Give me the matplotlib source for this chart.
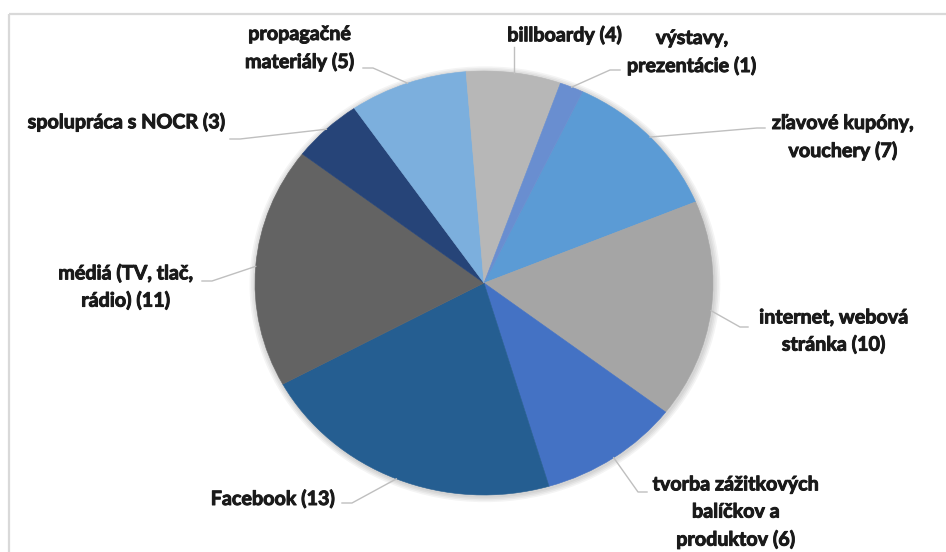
import matplotlib
matplotlib.use("Agg")
import matplotlib.pyplot as plt
import matplotlib.patheffects as pe
from matplotlib.patches import Circle, Rectangle
import numpy as np

# kategórie propagácie a počet odpovedí
kategorie = [
    "zľavové kupóny,\nvouchery",
    "internet, webová\nstránka",
    "tvorba zážitkových\nbalíčkov a\nproduktov",
    "Facebook",
    "médiá (TV, tlač,\nrádio)",
    "spolupráca s NOCR",
    "propagačné\nmateriály",
    "billboardy",
    "výstavy,\nprezentácie",
]
pocty = [7, 10, 6, 13, 11, 3, 5, 4, 1]

farby = ["#5B9BD5", "#A5A5A5", "#4472C4", "#255E91", "#636363",
         "#264478", "#7CAFDD", "#B7B7B7", "#698ED0"]

# stred textu popisu a body vodiacej čiary (v pixeloch, y zhora)
pozicie_textu = [(843, 137), (834, 331), (736, 512), (273, 499), (126, 287),
                 (127, 122), (300, 48), (565, 35), (692, 52)]
ciary = [
    [(765, 128), (757, 128)],
    [(748, 327), (740, 327)],
    [(647, 492), (638, 492)],
    [(342, 503), (352, 503)],
    [(202, 281), (212, 281)],
    [(230, 139), (240, 139)],
    [(363, 68), (373, 68)],
    [None],
    [(620, 70), (610, 70)],
]

W, H = 946, 552
fig = plt.figure(figsize=(W / 100, H / 100), dpi=100)
fig.patch.set_facecolor("white")

# graf je v zdrojovom obrázku mierne roztiahnutý do šírky
ax = fig.add_axes([255 / W, (H - 495) / H, 458 / W, 424 / H])
for k in range(1, 5):
    ax.add_patch(Circle((0.004, -0.006), 1.0 + 0.007 * k, color="black",
                        alpha=0.045, lw=0, clip_on=False, zorder=0))

wedges, _ = ax.pie(pocty, colors=farby, startangle=64.5, counterclock=False,
                   wedgeprops=dict(linewidth=0.4, zorder=2))
for w, c in zip(wedges, farby):
    w.set_edgecolor(c)
ax.set_aspect("auto")
ax.set_xlim(-1, 1)
ax.set_ylim(-1, 1)
ax.axis("off")

# vrstva v pixelových súradniciach pre popisy a rámček
ov = fig.add_axes([0, 0, 1, 1])
ov.set_xlim(0, W)
ov.set_ylim(H, 0)
ov.axis("off")
ov.patch.set_alpha(0)

ov.add_patch(Rectangle((9, 14), W, H, fill=False, edgecolor="#D9D9D9",
                       linewidth=1.6))

hrubsie = [pe.withStroke(linewidth=0.7, foreground="#1A1A1A")]

for w, kat, n, (tx, ty), body in zip(wedges, kategorie, pocty, pozicie_textu, ciary):
    uhol = np.deg2rad((w.theta1 + w.theta2) / 2)
    dx, dy = ax.transData.transform((np.cos(uhol), np.sin(uhol)))
    kotva = (dx, H - dy)
    if body[0] is None:
        body = [(kotva[0], 47)]
    xs = [p[0] for p in body] + [kotva[0]]
    ys = [p[1] for p in body] + [kotva[1]]
    ov.plot(xs, ys, color="#BFBFBF", linewidth=1.0, zorder=3)
    ov.text(tx, ty, f"{kat} ({n})", ha="center", va="center",
            multialignment="center", fontsize=14.2, fontweight="bold",
            family="Lato", color="#1A1A1A", linespacing=1.45, zorder=4,
            path_effects=hrubsie)

fig.savefig("out.png", dpi=100, facecolor="white")
